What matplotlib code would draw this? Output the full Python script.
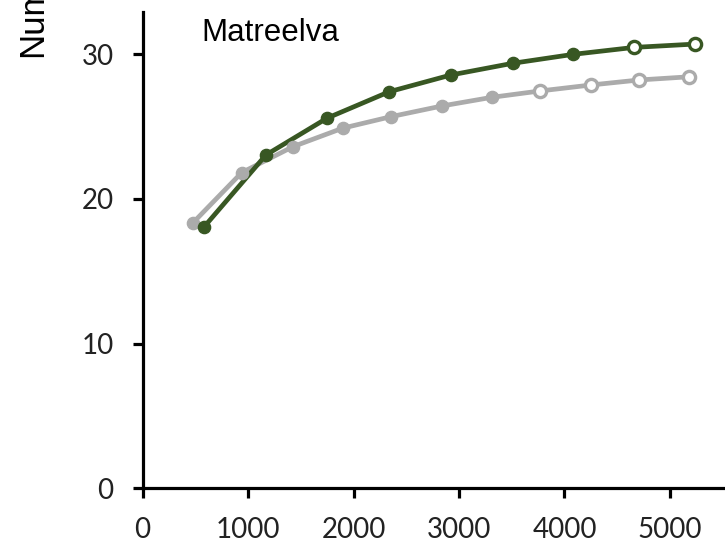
import matplotlib.pyplot as plt

# datos (Matreelva)
green_x = [581, 1169, 1748, 2339, 2921, 3507, 4083, 4659, 5238]
green_y = [18.05, 23.03, 25.57, 27.40, 28.55, 29.36, 29.98, 30.46, 30.69]
green_open = [False, False, False, False, False, False, False, True, True]

grey_x = [474, 939, 1428, 1897, 2358, 2836, 3310, 3768, 4248, 4709, 5183]
grey_y = [18.32, 21.81, 23.61, 24.88, 25.68, 26.41, 27.01, 27.45, 27.86, 28.21, 28.43]
grey_open = [False, False, False, False, False, False, False, True, True, True, True]

xticks = [0, 1000, 2000, 3000, 4000, 5000]
yticks = [0, 10, 20, 30]

GREEN = '#385723'
GREY = '#ababab'

fig = plt.figure(figsize=(7.25, 5.49), dpi=100)
ax = fig.add_axes([0.1968, 0.1106, 0.8032, 0.8674])


def draw(xs, ys, opens, color):
    ax.plot(xs, ys, color=color, lw=3.4, zorder=2)
    fx = [x for x, o in zip(xs, opens) if not o]
    fy = [y for y, o in zip(ys, opens) if not o]
    ox = [x for x, o in zip(xs, opens) if o]
    oy = [y for y, o in zip(ys, opens) if o]
    ax.plot(fx, fy, 'o', color=color, ms=8.8, zorder=3)
    ax.plot(ox, oy, 'o', mfc='white', mec=color, mew=2.4, ms=8.8, zorder=3)


draw(grey_x, grey_y, grey_open, GREY)
draw(green_x, green_y, green_open, GREEN)

ax.set_xlim(0, 5522)
ax.set_ylim(0, 32.9)
ax.set_xticks(xticks)
ax.set_yticks(yticks)
for s in ['top', 'right']:
    ax.spines[s].set_visible(False)
for s in ['left', 'bottom']:
    ax.spines[s].set_linewidth(2.3)
    ax.spines[s].set_clip_on(False)
ax.tick_params(direction='out', length=7, width=2.3, colors='black')
ax.tick_params(axis='y', pad=14)
ax.tick_params(axis='x', pad=14)
for lab in ax.get_xticklabels() + ax.get_yticklabels():
    lab.set_fontfamily('Lato')
    lab.set_fontsize(20)
    lab.set_color('#222222')

ax.text(0.100, 0.939, 'Matreelva', transform=ax.transAxes, fontsize=22.5,
        family='Liberation Sans', ha='left', va='baseline')

fig.text(33 / 725, 1 - 57 / 549, 'Num', rotation=90, fontsize=25,
         family='Liberation Sans', ha='center', va='bottom')

plt.savefig('out.png')
